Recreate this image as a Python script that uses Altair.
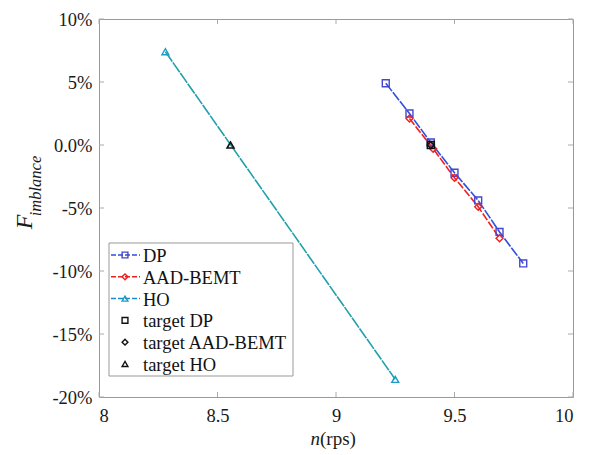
import altair as alt
import pandas as pd

# Rotational speed n (rps) and imbalance F (%) for each method
dp_n = [9.21, 9.31, 9.40, 9.50, 9.60, 9.69, 9.79]
dp_f = [4.9, 2.5, 0.2, -2.2, -4.4, -6.9, -9.4]

aad_n = [9.31, 9.41, 9.50, 9.60, 9.69]
aad_f = [2.1, -0.3, -2.6, -4.9, -7.4]

ho_n = [8.28, 9.25]
ho_f = [7.4, -18.6]

# Balanced (zero-imbalance) targets
target_labels = ["target DP", "target AAD-BEMT", "target HO"]
target_n = [9.40, 9.40, 8.555]
target_f = [0.0, 0.0, 0.0]

series_labels = ["DP", "AAD-BEMT", "HO"]
line_colors = ["#2f4fdd", "#ee2020", "#22a0aa"]
marker_colors = ["#4646d0", "#ee2020", "#1a9cc4"]
legend_line_colors = ["#2f4fdd", "#ee2020", "#1a8cd0"]
shapes = ["square", "diamond", "triangle-up"]
dashes = [[10, 1.5], [8, 2], [12, 1]]

x_ticks = [8, 8.5, 9, 9.5, 10]
y_ticks = [-20, -15, -10, -5, 0, 5, 10]

FONT = "Liberation Serif"
W, H = 474, 378

x_scale = alt.Scale(domain=[8, 10], nice=False, zero=False)
y_scale = alt.Scale(domain=[-20, 10], nice=False, zero=False)

rows = []
for lab, ns, fs in zip(series_labels, [dp_n, aad_n, ho_n], [dp_f, aad_f, ho_f]):
    for i, (a, b) in enumerate(zip(ns, fs)):
        rows.append({"series": lab, "n": a, "f": b, "order": i})
df = pd.DataFrame(rows)
tdf = pd.DataFrame({"series": target_labels, "n": target_n, "f": target_f})

X = alt.X("n:Q", scale=x_scale,
          axis=alt.Axis(values=x_ticks, title=None, grid=False, ticks=False, domain=False,
                        labelFont=FONT, labelFontSize=18.5, labelColor="#1a1a1a",
                        labelPadding=9, labelExpr="datum.value + ''"))
Y = alt.Y("f:Q", scale=y_scale,
          axis=alt.Axis(values=y_ticks, title=None, grid=False, ticks=False, domain=False,
                        labelFont=FONT, labelFontSize=18.5, labelColor="#1a1a1a",
                        labelPadding=7,
                        labelExpr="datum.value == 0 ? '0.0%' : datum.value + '%'"))

layers = []
for lab, lc, ds in zip(series_labels, line_colors, dashes):
    sub = df[df["series"] == lab]
    layers.append(
        alt.Chart(sub).mark_line(color=lc, strokeWidth=1.6, strokeDash=ds)
        .encode(x=X, y=Y, order="order:Q")
    )
for lab, mc, sh in zip(series_labels, marker_colors, shapes):
    sub = df[df["series"] == lab]
    layers.append(
        alt.Chart(sub).mark_point(shape=sh, color=mc, filled=False, size=48, strokeWidth=1.4, opacity=1)
        .encode(x="n:Q", y="f:Q")
    )
for lab, sh in zip(target_labels, shapes):
    sub = tdf[tdf["series"] == lab]
    layers.append(
        alt.Chart(sub).mark_point(shape=sh, color="#111", filled=False, size=48, strokeWidth=1.6, opacity=1)
        .encode(x="n:Q", y="f:Q")
    )

# inward tick marks on all four sides
xt = pd.DataFrame({"n": x_ticks})
yt = pd.DataFrame({"f": y_ticks})
tick_col = "#aaa"
layers.append(alt.Chart(xt).mark_rule(color=tick_col, strokeWidth=1)
              .encode(x="n:Q", y=alt.value(H), y2=alt.value(H - 5)))
layers.append(alt.Chart(xt).mark_rule(color=tick_col, strokeWidth=1)
              .encode(x="n:Q", y=alt.value(0), y2=alt.value(5)))
layers.append(alt.Chart(yt).mark_rule(color=tick_col, strokeWidth=1)
              .encode(y="f:Q", x=alt.value(0), x2=alt.value(5)))
layers.append(alt.Chart(yt).mark_rule(color=tick_col, strokeWidth=1)
              .encode(y="f:Q", x=alt.value(W), x2=alt.value(W - 5)))

one = pd.DataFrame({"k": [0]})

# legend box
lx0, ly0, lx1, ly1 = 10, 224, 194, 357
layers.append(alt.Chart(one).mark_rect(fill="white", stroke="#999", strokeWidth=1)
              .encode(x=alt.value(lx0), x2=alt.value(lx1), y=alt.value(ly0), y2=alt.value(ly1)))

entry_labels = series_labels + target_labels
step = 21.8
for i, lab in enumerate(entry_labels):
    yy = ly0 + 12 + i * step
    if i < 3:
        layers.append(alt.Chart(one).mark_rule(color=legend_line_colors[i], strokeWidth=1.5, strokeDash=[5, 2])
                      .encode(x=alt.value(lx0 + 2), x2=alt.value(lx0 + 31), y=alt.value(yy)))
        mcol = marker_colors[i]
    else:
        mcol = "#111"
    layers.append(alt.Chart(one).mark_point(shape=shapes[i % 3], color=mcol, filled=False,
                                            size=34, strokeWidth=1.4, opacity=1)
                  .encode(x=alt.value(lx0 + 16), y=alt.value(yy)))
    layers.append(alt.Chart(one).mark_text(text=lab, font=FONT, fontSize=18.5, color="#111",
                                           align="left", baseline="middle")
                  .encode(x=alt.value(lx0 + 34), y=alt.value(yy + 1)))

# axis titles
layers.append(alt.Chart(one).mark_text(text="F", font=FONT, fontSize=24, fontStyle="italic",
                                       color="#1a1a1a", angle=270, align="center", baseline="middle")
              .encode(x=alt.value(-74), y=alt.value(203)))
layers.append(alt.Chart(one).mark_text(text="imblance", font=FONT, fontSize=16.5, fontStyle="italic",
                                       color="#1a1a1a", angle=270, align="center", baseline="middle")
              .encode(x=alt.value(-63), y=alt.value(167)))
layers.append(alt.Chart(one).mark_text(text="n", font=FONT, fontSize=19, fontStyle="italic",
                                       color="#1a1a1a", align="right", baseline="middle")
              .encode(x=alt.value(221), y=alt.value(420)))
layers.append(alt.Chart(one).mark_text(text="(rps)", font=FONT, fontSize=19,
                                       color="#1a1a1a", align="left", baseline="middle")
              .encode(x=alt.value(221), y=alt.value(420)))

chart = (
    alt.layer(*layers)
    .properties(width=W, height=H, autosize=alt.AutoSizeParams(type="none"),
                padding={"left": 99, "top": 19, "right": 24, "bottom": 58},
                background="white")
    .configure_view(stroke="#999", strokeWidth=1)
)

chart.save("out.html", embed_options={"renderer": "svg", "actions": False})
